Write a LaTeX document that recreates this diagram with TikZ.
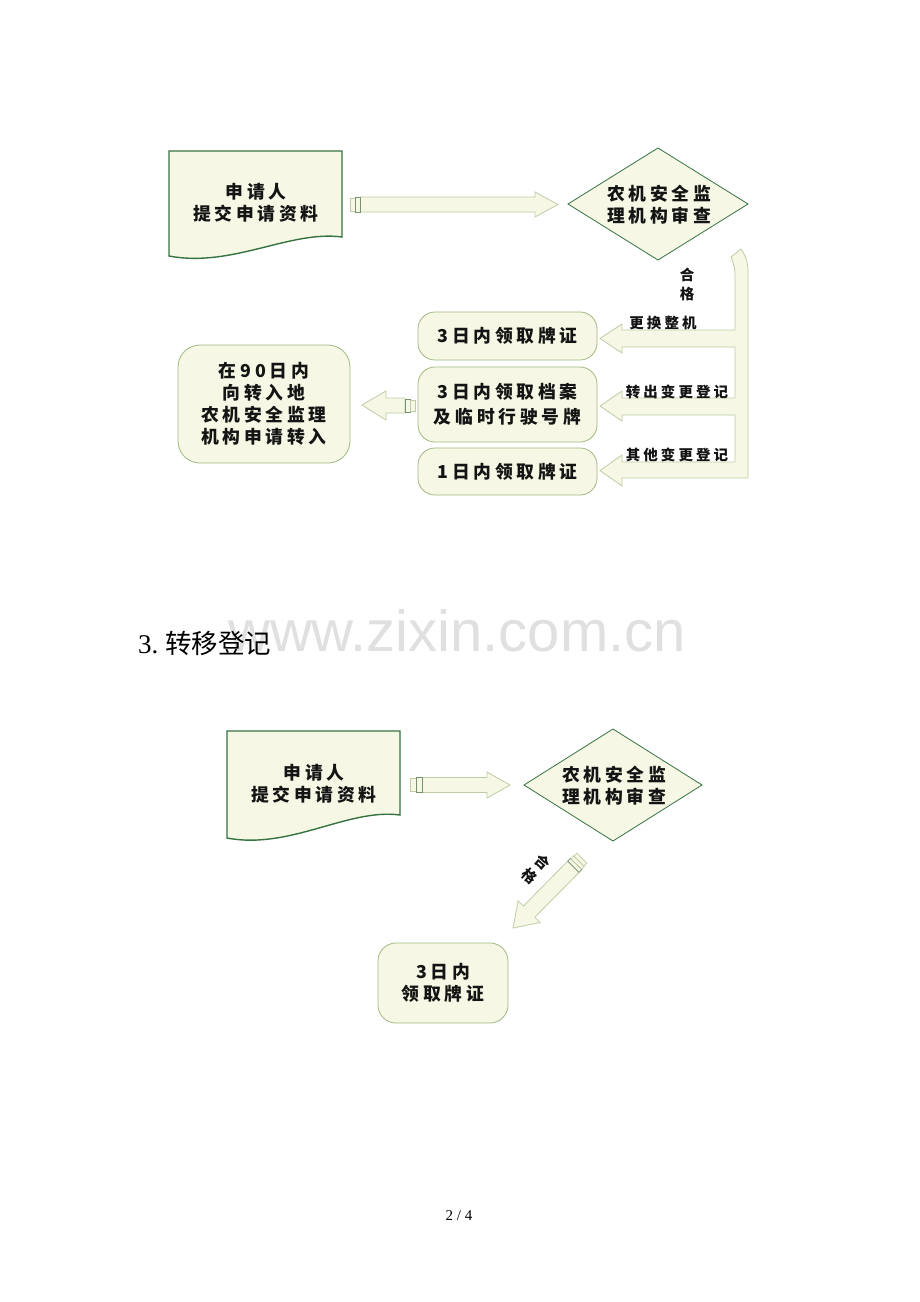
\documentclass[tikz,border=0pt]{standalone}
\usepackage{fontspec}
\setmainfont{Liberation Serif}
\newfontfamily\cjk[LetterSpace=21]{Noto Sans CJK SC}
\newfontfamily\cjkh{Noto Sans CJK SC}
\newfontfamily\wmfont{Liberation Sans}
\definecolor{boxfill}{RGB}{246,247,228}
\definecolor{docline}{RGB}{55,115,65}
\definecolor{rline}{RGB}{160,185,130}
\definecolor{arrline}{RGB}{190,205,165}
\definecolor{stripe}{RGB}{120,145,110}
\definecolor{txt}{RGB}{20,20,20}
\begin{document}
\begin{tikzpicture}[x=1pt,y=-1pt,
  docb/.style={draw=docline,line width=1.4pt,fill=boxfill},
  diam/.style={draw=docline,line width=0.8pt,fill=boxfill},
  rbox/.style={draw=rline,line width=0.8pt,fill=boxfill,rounded corners=17pt,inner sep=0pt},
  arr/.style={draw=arrline,line width=0.8pt,fill=boxfill,line join=miter},
  strp/.style={draw=stripe,line width=0.7pt,fill=boxfill},
  strpl/.style={draw=arrline,line width=0.7pt,fill=boxfill},
  tx/.style={text=txt,align=center,font=\cjk\bfseries\fontsize{17.8}{22}\selectfont,inner sep=0pt},
  lb/.style={text=txt,align=center,font=\cjk\bfseries\fontsize{14.5}{19}\selectfont,inner sep=0pt}]
\useasboundingbox[fill=white] (0,0) rectangle (920,1302);

% ================= Diagram 1 =================
\draw[docb] (169,151) -- (342,151) -- (342,237)
  .. controls (290,230) and (232,268) .. (169,256) -- cycle;
\node[tx] (d1) at (256,203) {申请人\\提交申请资料};

\draw[diam] (568,204) -- (658,148) -- (748,204) -- (658,260) -- cycle;
\node[tx] (q1) at (659,205) {农机安全监\\理机构审查};

\draw[arr] (360,197) -- (535,197) -- (535,192) -- (558,204.5) -- (535,217) -- (535,212) -- (360,212) -- cycle;
\draw[strpl] (350,198) rectangle (355,211);
\draw[strp] (355,197) rectangle (360,212);

\draw[arr] (735,278) .. controls (735,268) .. (731,257) -- (741,249)
  .. controls (746,257) .. (748,268)
  -- (748,478) -- (622,478) -- (622,486) -- (600,470.5) -- (622,455) -- (622,462)
  -- (735,462) -- (735,415) -- (622,415) -- (622,421) -- (600,406) -- (622,391) -- (622,398)
  -- (735,398) -- (735,347) -- (622,347) -- (622,353) -- (600,338.5) -- (622,324) -- (622,330)
  -- (735,330) -- cycle;

\node[lb] (lq) at (687,284) {合\\格};
\node[lb] (l1) at (663,323) {更换整机};
\node[lb] (l2) at (677,392) {转出变更登记};
\node[lb] (l3) at (677,455) {其他变更登记};

\node[rbox,minimum width=179pt,minimum height=48pt] (b1) at (507.5,336) {};
\node[tx] at (b1.center) {3日内领取牌证};
\node[rbox,minimum width=179pt,minimum height=75pt] (b2) at (507.5,404.5) {};
\node[tx,font=\cjk\bfseries\fontsize{17.8}{25}\selectfont] at (b2.center) {3日内领取档案\\及临时行驶号牌};
\node[rbox,minimum width=179pt,minimum height=47pt] (b3) at (507.5,471.5) {};
\node[tx] at (b3.center) {1日内领取牌证};

\node[rbox,rounded corners=22pt,minimum width=172pt,minimum height=118pt] (L) at (264,404) {};
\node[tx,font=\cjk\bfseries\fontsize{17.8}{22}\selectfont] at (L.center) {在90日内\\向转入地\\农机安全监理\\机构申请转入};

\draw[arr] (405,398) -- (386,398) -- (386,391) -- (362,405) -- (386,420) -- (386,413) -- (405,413) -- cycle;
\draw[strp] (405,399) rectangle (410,412);
\draw[strpl] (410,400) rectangle (415,411);

% ================= Heading & watermark =================
\node[anchor=base,text=black!12,inner sep=0pt] (wm) at (457,651) {\wmfont\fontsize{58}{58}\selectfont www.zixin.com.cn};
\node[anchor=base west,inner sep=0pt] (hd) at (138,653) {\fontsize{27}{27}\selectfont 3.\hspace{7pt}{\cjkh\fontsize{26.5}{27}\selectfont 转移登记}};

% ================= Diagram 2 =================
\draw[docb] (227,731) -- (400,731) -- (400,815)
  .. controls (348,808) and (290,850) .. (227,838) -- cycle;
\node[tx] (d2) at (314,784) {申请人\\提交申请资料};

\draw[diam] (524,785) -- (613,729) -- (702,785) -- (613,841) -- cycle;
\node[tx] (q2) at (614,786) {农机安全监\\理机构审查};

\draw[arr] (422,777.5) -- (487,777.5) -- (487,772) -- (510,785) -- (487,798) -- (487,792.5) -- (422,792.5) -- cycle;
\draw[strpl] (410,778.5) rectangle (416,791.5);
\draw[strp] (416,777.5) rectangle (422,792.5);

\begin{scope}[shift={(513,928)},rotate=45.4]
  \draw[arr] (0,0) -- (23,-15.5) -- (23,-8) -- (86,-8) -- (86,8) -- (23,8) -- (23,15.5) -- cycle;
  \draw[strp] (86,-8) rectangle (90,8);
  \draw[strpl] (90,-7.5) rectangle (94,7.5);
  \draw[strpl] (94,-7) rectangle (98,7);
\end{scope}
\node[lb,rotate=-41] (lq2) at (536,869) {合\\格};

\node[rbox,rounded corners=18pt,minimum width=130pt,minimum height=80pt] (B) at (443,983) {};
\node[tx] at (B.center) {3日内\\领取牌证};

\node[inner sep=0pt] (pg) at (459,1216) {\fontsize{15}{15}\selectfont 2 / 4};
\end{tikzpicture}
\end{document}
